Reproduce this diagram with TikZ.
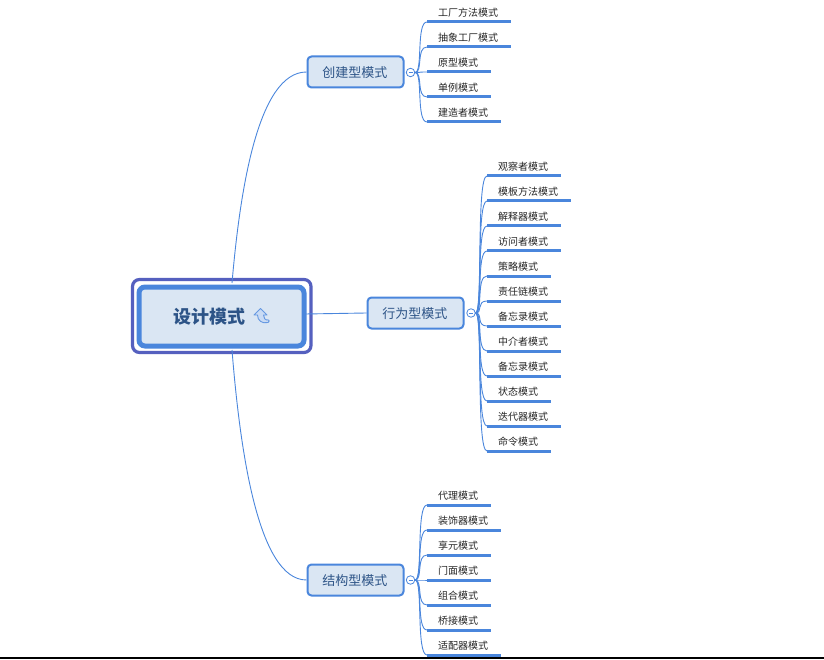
\documentclass[tikz,border=0pt]{standalone}
\usepackage{fontspec}
\setmainfont{Noto Sans CJK SC}
\definecolor{linkblue}{HTML}{4A86DC}
\definecolor{rimblue}{HTML}{5560BF}
\definecolor{boxfill}{HTML}{DAE6F3}
\definecolor{boxtext}{HTML}{2D5487}
\tikzset{
  rootbox/.style={draw=linkblue, line width=5pt, fill=boxfill, rounded corners=6pt,
    minimum width=165pt, minimum height=59pt},
  midbox/.style={draw=linkblue, line width=2pt, fill=boxfill, rounded corners=4pt,
    minimum width=96pt, minimum height=31pt, inner sep=0pt, text height=13pt, text depth=1.5pt,
    text=boxtext, font=\fontsize{13}{15}\selectfont, execute at end node=\kern1.5pt},
  leaf/.style={anchor=south west, inner xsep=11pt, inner ysep=4pt, text=black!85, font=\fontsize{10}{12}\selectfont},
  knob/.style={circle, draw=linkblue, fill=white, line width=0.8pt, minimum size=8.5pt, inner sep=0pt},
  link/.style={draw=linkblue, line width=0.9pt},
  underline/.style={draw=linkblue, line width=3pt, shorten >=-2pt}
}
\begin{document}
\begin{tikzpicture}[x=1pt,y=-1pt]
    \useasboundingbox (0,0) rectangle (824,660);

    % Bottom edge
    \draw[line width=1.2pt] (0,658) -- (824,658);

    % Root
    \draw[draw=rimblue, line width=3.2pt, rounded corners=7pt] (132.5,279.5) rectangle (311,352.5);
    \node[rootbox] (root) at (221.5,316.5) {};
    \node[text=boxtext, font=\fontsize{18}{20}\selectfont\bfseries] (roottitle) at (209,316.5) {设计模式};

    % Icon
    \draw[draw=linkblue!85, fill=linkblue!30, line width=0.9pt, line join=round]
        (260.5,308.5) -- (254,315) -- (257.5,315)
        .. controls (257.5,320.5) and (262,324) .. (268,322.5)
        .. controls (269.5,322) and (269.5,320) .. (268.5,320)
        .. controls (265,320.5) and (263.5,318) .. (263.5,315) -- (267,315) -- cycle;

    % Branches
    \node[midbox] (create) at (355.5,72) {创建型模式};
    \node[midbox] (behave) at (415.5,313) {行为型模式};
    \node[midbox] (struct) at (355.5,580) {结构型模式};

    \coordinate (roottop) at (232,283);
    \coordinate (rootbot) at (232,350);
    \coordinate (rootside) at (305,314);
    \draw[link] (roottop) .. controls (240,190) and (258,72) .. (create.west);
    \draw[link] (rootside) -- (behave.west);
    \draw[link] (rootbot) .. controls (240,450) and (258,580) .. (struct.west);

    % Collapse marks
    \node[knob] (createknob) at (410.5,72.5) {};
    \node[knob] (behaveknob) at (471,313) {};
    \node[knob] (structknob) at (410.5,580) {};
    \draw[link] (408.5,72.5) -- (412.5,72.5);
    \draw[link] (469,313) -- (473,313);
    \draw[link] (408.5,580) -- (412.5,580);

    % Creational leaves
    \foreach \name [count=\i] in {工厂方法模式,抽象工厂模式,原型模式,单例模式,建造者模式}{
        \pgfmathsetmacro{\ypos}{22+25*(\i-1)}
        \node[leaf] (c\i) at (427,\ypos) {\name};
        \draw[underline] (c\i.south west) -- (c\i.south east);
        \draw[link] (createknob.east) .. controls (423,72.5) and (416,\ypos) .. (c\i.south west);
    }

    % Behavioural leaves
    \foreach \name [count=\i] in {观察者模式,模板方法模式,解释器模式,访问者模式,策略模式,责任链模式,备忘录模式,中介者模式,备忘录模式,状态模式,迭代器模式,命令模式}{
        \pgfmathsetmacro{\ypos}{176+25*(\i-1)}
        \node[leaf] (b\i) at (487,\ypos) {\name};
        \draw[underline] (b\i.south west) -- (b\i.south east);
        \draw[link] (behaveknob.east) .. controls (483,313) and (476,\ypos) .. (b\i.south west);
    }

    % Structural leaves
    \foreach \name [count=\i] in {代理模式,装饰器模式,享元模式,门面模式,组合模式,桥接模式,适配器模式}{
        \pgfmathsetmacro{\ypos}{505+25*(\i-1)}
        \node[leaf] (s\i) at (427,\ypos) {\name};
        \draw[underline] (s\i.south west) -- (s\i.south east);
        \draw[link] (structknob.east) .. controls (423,580) and (416,\ypos) .. (s\i.south west);
    }
\end{tikzpicture}
\end{document}
